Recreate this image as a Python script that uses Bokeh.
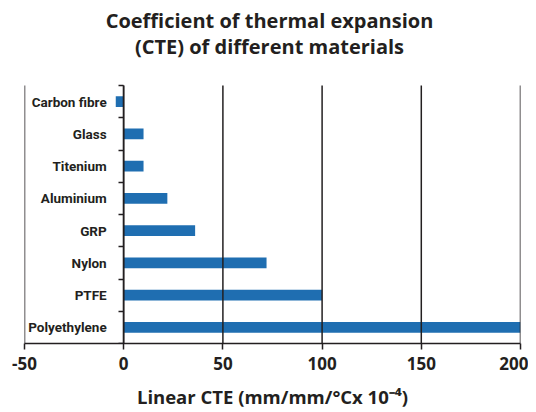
from bokeh.plotting import figure
from bokeh.models import Range1d, FixedTicker, ColumnDataSource, Label
from bokeh.embed import file_html
from bokeh.resources import INLINE

# Data (top to bottom)
materials = ["Carbon fibre", "Glass", "Titenium", "Aluminium", "GRP", "Nylon", "PTFE", "Polyethylene"]
cte = [-4, 10, 10, 22, 36, 72, 100, 200]
x_ticks = [-50, 0, 50, 100, 150, 200]
title_lines = ["Coefficient of thermal expansion", "(CTE) of different materials"]

n = len(materials)
ypos = [n - i - 0.5 for i in range(n)]
src = ColumnDataSource(dict(y=ypos, right=cte, left=[0] * n, name=materials))

TXT = "#231F20"
BAR = "#1F6EB1"
W, H = 528, 411
FRAME_LEFT, BARS_TOP, FRAME_BOTTOM = 24, 85, 343  # page pixels
# frame spans the title area too; bars occupy the lower part
y_top = n * FRAME_BOTTOM / (FRAME_BOTTOM - BARS_TOP)

p = figure(width=W, height=H, output_backend="svg", toolbar_location=None,
           x_range=Range1d(-50, 200), y_range=Range1d(0, y_top),
           min_border_left=FRAME_LEFT, min_border_right=8,
           min_border_bottom=H - FRAME_BOTTOM, min_border_top=0)

p.hbar(y="y", left="left", right="right", height=0.34, source=src, color=BAR, line_color=None)

# vertical grid lines limited to the bar area, drawn over the bars
p.segment(x0=x_ticks, y0=[0] * len(x_ticks), x1=x_ticks, y1=[n] * len(x_ticks),
          line_color=TXT, line_width=1.5)

# two centred title lines (screen units are relative to the plot frame)
for line, top in zip(title_lines, [20, 46]):
    p.add_layout(Label(x=269 - FRAME_LEFT, y=FRAME_BOTTOM - top, x_units="screen", y_units="screen",
                       text=line, text_align="center", text_baseline="middle",
                       text_font="Open Sans", text_font_style="bold",
                       text_font_size="20px", text_color=TXT))

p.outline_line_color = None
p.background_fill_color = "white"
p.xgrid.grid_line_color = None
p.ygrid.grid_line_color = None

# x axis
p.xaxis.ticker = FixedTicker(ticks=x_ticks)
p.xaxis.major_label_overrides = {t: str(t) for t in x_ticks}
p.xaxis.axis_line_color = TXT
p.xaxis.axis_line_width = 1.5
p.xaxis.major_tick_line_color = TXT
p.xaxis.major_tick_line_width = 1.5
p.xaxis.major_tick_out = 6
p.xaxis.major_tick_in = 0
p.xaxis.minor_tick_line_color = None
p.xaxis.major_label_text_font = "Open Sans"
p.xaxis.major_label_text_font_style = "bold"
p.xaxis.major_label_text_font_size = "17px"
p.xaxis.major_label_text_color = TXT
p.xaxis.major_label_standoff = 7
p.xaxis.axis_label = "Linear CTE (mm/mm/\u00b0Cx 10\u207b\u2074)"
p.xaxis.axis_label_text_font = "Open Sans"
p.xaxis.axis_label_text_font_style = "bold"
p.xaxis.axis_label_text_font_size = "18.5px"
p.xaxis.axis_label_text_color = TXT
p.xaxis.axis_label_standoff = 11

# y axis at x = 0, only over the bar area
p.yaxis.fixed_location = 0
p.yaxis.bounds = (0, n)
p.yaxis.ticker = FixedTicker(ticks=ypos, minor_ticks=list(range(n + 1)))
p.yaxis.major_label_overrides = {y: m for y, m in zip(ypos, materials)}
p.yaxis.axis_line_color = TXT
p.yaxis.axis_line_width = 1.5
p.yaxis.major_tick_line_color = None
p.yaxis.major_tick_out = 0
p.yaxis.major_tick_in = 0
p.yaxis.minor_tick_line_color = TXT
p.yaxis.minor_tick_line_width = 1.5
p.yaxis.minor_tick_out = 5
p.yaxis.minor_tick_in = 0
p.yaxis.major_label_text_font = "Roboto"
p.yaxis.major_label_text_font_style = "bold"
p.yaxis.major_label_text_font_size = "13.5px"
p.yaxis.major_label_text_color = TXT
p.yaxis.major_label_standoff = 12

open("out.html", "w").write(file_html(p, INLINE))
